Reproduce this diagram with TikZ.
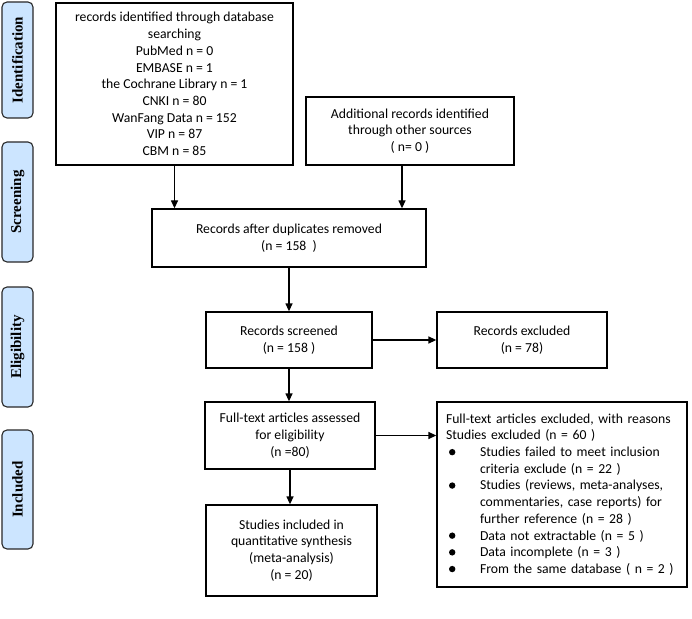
\documentclass[tikz,border=0pt]{standalone}
\usepackage{fontspec}
\setmainfont{Carlito}
\newfontfamily\labfont{Liberation Serif}
\usetikzlibrary{arrows.meta}
\definecolor{sidefill}{RGB}{204,229,255}
\definecolor{sidedraw}{RGB}{40,40,40}
\newcommand\bul{\makebox[34bp][l]{\hspace{3bp}\tikz[baseline=-4.4bp]\fill (0,0) circle (3.2bp);}}
\newcommand\ind{\hspace*{34bp}}
\tikzset{
  box/.style={draw=black, line width=1.3bp, align=center, inner sep=0pt,
    font=\fontsize{13.7bp}{16.7bp}\selectfont},
  side/.style={draw=sidedraw, fill=sidefill, rounded corners=5bp, line width=1.1bp,
    rotate=90, minimum height=31bp, inner sep=0pt,
    font=\labfont\bfseries\fontsize{15bp}{18bp}\selectfont},
  arr/.style={line width=1.3bp, -{Triangle[length=8bp,width=7bp]}},
}
\begin{document}
\begin{tikzpicture}[x=1bp,y=1bp]
\useasboundingbox (0,0) rectangle (692,-619);
% side labels
\node[side, minimum width=116bp] (sid) at (17.5,-60) {Identification};
\node[side, minimum width=120bp] (ssc) at (17.5,-202) {Screening};
\node[side, minimum width=120bp] (sel) at (17.5,-347) {Eligibility};
\node[side, minimum width=119bp] (sin) at (17.5,-489.5) {Included};
% boxes
\node[box, minimum width=237bp, minimum height=162bp] (tl) at (174.5,-84)
  {records identified through database\\searching\\PubMed n = 0\\EMBASE n = 1\\the Cochrane Library n = 1\\CNKI n = 80\\WanFang Data n = 152\\VIP n = 87\\CBM n = 85};
\node[box, minimum width=208bp, minimum height=68bp] (rt) at (410,-131)
  {Additional records identified\\through other sources\\( n= 0 )};
\node[box, minimum width=274bp, minimum height=58bp] (dup) at (289,-238)
  {Records after duplicates removed\\(n = 158\ \ )};
\node[box, minimum width=166bp, minimum height=56bp] (scr) at (289,-340)
  {Records screened\\(n = 158 )};
\node[box, minimum width=170bp, minimum height=56bp] (exc) at (522,-340)
  {Records excluded\\(n = 78)};
\node[box, minimum width=170bp, minimum height=67bp] (ft) at (290,-435.5)
  {Full-text articles assessed\\for eligibility\\(n =80)};
\node[box, minimum width=171bp, minimum height=91bp] (inc) at (291.5,-550.5)
  {Studies included in\\quantitative synthesis\\(meta-analysis)\\(n = 20)};
\node[box, align=left, text width=232bp, inner xsep=9bp, minimum height=185bp] (rb) at (562,-494.5)
  {Full-text articles excluded, with reasons\\
   Studies excluded (n = 60 )\\
   \bul Studies failed to meet inclusion\\
   \ind criteria exclude (n = 22 )\\
   \bul Studies (reviews, meta-analyses,\\
   \ind commentaries, case reports) for\\
   \ind further reference (n = 28 )\\
   \bul Data not extractable (n = 5 )\\
   \bul Data incomplete (n = 3 )\\
   \bul From the same database ( n = 2 )};
% connectors
\draw[arr] (tl.south) -- (tl.south |- dup.north);
\draw[arr] ([xshift=-8bp]rt.south) -- ([xshift=-8bp]rt.south |- dup.north);
\draw[arr] (dup.south) -- (dup.south |- scr.north);
\draw[arr] (scr.east) -- (exc.west);
\draw[arr] (scr.south) -- (scr.south |- ft.north);
\draw[arr] (ft.east) -- (ft.east -| rb.west);
\draw[arr] (ft.south) -- (ft.south |- inc.north);
\end{tikzpicture}
\end{document}
